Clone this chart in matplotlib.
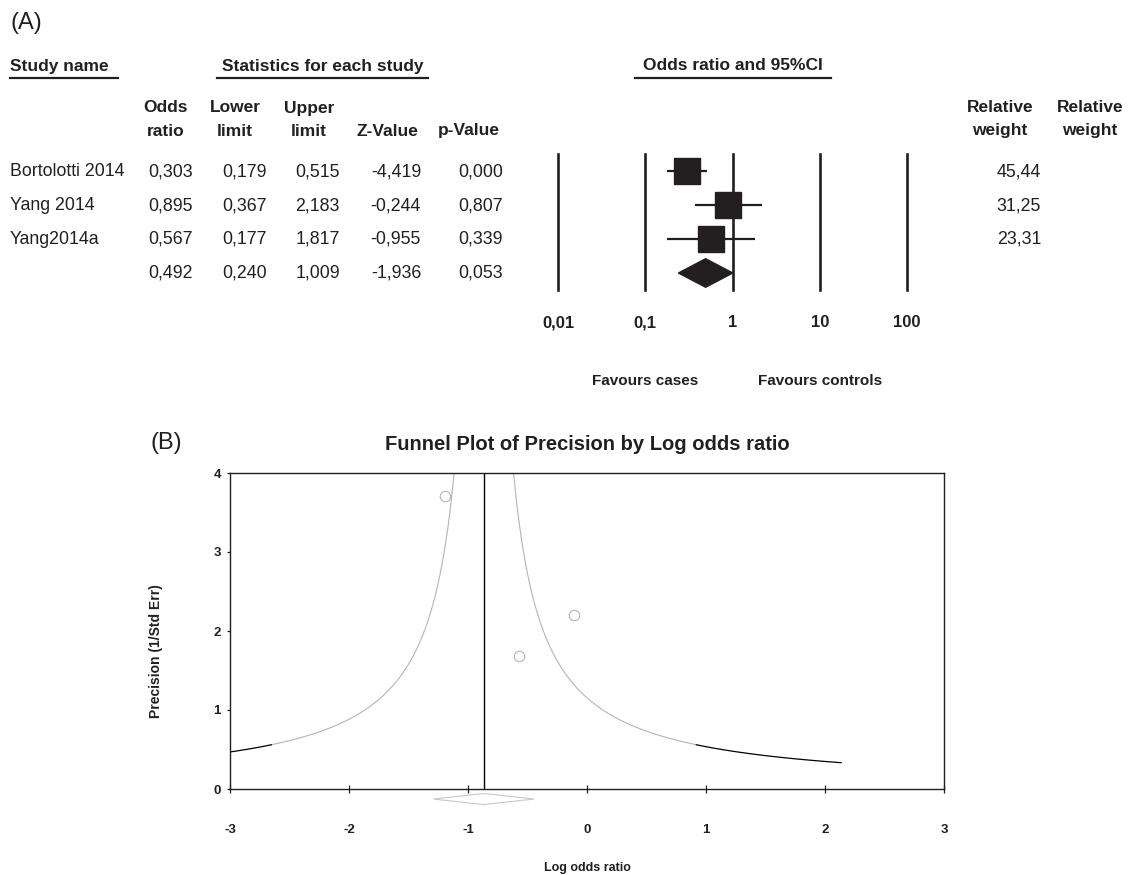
"""
Forest plot (A) and funnel plot (B) of the meta-analysis
"""

import matplotlib

matplotlib.use("Agg")
import matplotlib.pyplot as plt
import numpy as np
from matplotlib.lines import Line2D
from matplotlib.patches import Polygon

plt.rcParams["font.family"] = ["Liberation Sans", "DejaVu Sans"]

W, H = 1129, 875
INK = "#231f20"

# study data
studies = ["Bortolotti 2014", "Yang 2014", "Yang2014a"]
odds_ratio = [0.303, 0.895, 0.567]
lower = [0.179, 0.367, 0.177]
upper = [0.515, 2.183, 1.817]
z_value = [-4.419, -0.244, -0.955]
p_value = [0.000, 0.807, 0.339]
rel_weight = [45.44, 31.25, 23.31]

# pooled (summary) row
pooled_or, pooled_lo, pooled_hi = 0.492, 0.240, 1.009
pooled_z, pooled_p = -1.936, 0.053

forest_ticks = [0.01, 0.1, 1, 10, 100]
forest_ticklabels = ["0,01", "0,1", "1", "10", "100"]


def fmt(v, nd=3):
    return f"{v:.{nd}f}".replace(".", ",")


def fx(x):
    return x / W


def fy(y):
    return 1 - y / H


fig = plt.figure(figsize=(W / 100, H / 100), dpi=100)

# ---------------- panel A: table ----------------
fig.text(fx(10), fy(23), "(A)", fontsize=17, color=INK, va="center", ha="left")

hdr = dict(fontsize=12.5, fontweight="bold", color=INK, va="center")
fig.text(fx(10), fy(66), "Study name", ha="left", **hdr)
fig.text(fx(222), fy(66), "Statistics for each study", ha="left", **hdr)
fig.text(fx(733), fy(66), "Odds ratio and 95%CI", ha="center", **hdr)
for x0, x1 in [(10, 118), (217, 428), (635, 831)]:
    fig.add_artist(Line2D([fx(x0), fx(x1)], [fy(78), fy(78)], color=INK, lw=1.6))

col_hdr = [
    (166, "Odds", "ratio"),
    (235, "Lower", "limit"),
    (309, "Upper", "limit"),
    (387, "", "Z-Value"),
    (469, "", "p-Value"),
    (1000, "Relative", "weight"),
    (1090, "Relative", "weight"),
]
for x, l1, l2 in col_hdr:
    if l1:
        fig.text(fx(x), fy(108), l1, ha="center", **hdr)
    fig.text(fx(x), fy(131), l2, ha="center", **hdr)

row_y = [172, 206, 239, 273]
val = dict(fontsize=12.8, color=INK, va="center", ha="right")
col_right = [193, 267, 340, 421, 503]
for i, name in enumerate(studies):
    fig.text(fx(10), fy(row_y[i]), name, fontsize=12.8, color=INK, va="center", ha="left")
    vals = [odds_ratio[i], lower[i], upper[i], z_value[i], p_value[i]]
    for xr, v in zip(col_right, vals):
        fig.text(fx(xr), fy(row_y[i]), fmt(v), **val)
    fig.text(fx(1041), fy(row_y[i]), fmt(rel_weight[i], 2), **val)
for xr, v in zip(col_right, [pooled_or, pooled_lo, pooled_hi, pooled_z, pooled_p]):
    fig.text(fx(xr), fy(row_y[3]), fmt(v), **val)

# ---------------- panel A: forest ----------------
axf = fig.add_axes([fx(558), fy(290), fx(907) - fx(558), fy(154) - fy(290)])
axf.set_xscale("log")
axf.set_xlim(0.01, 100)
axf.set_ylim(3.5, -0.5)
axf.axis("off")
for t in forest_ticks:
    axf.axvline(t, color=INK, lw=1.9, clip_on=False)

rows = np.arange(len(studies))
axf.hlines(rows, lower, upper, color=INK, lw=1.6)
axf.plot(odds_ratio, rows, "s", ms=18.5, color=INK, mec=INK)
h = 0.42
diamond = Polygon(
    [(pooled_lo, 3), (pooled_or, 3 - h), (pooled_hi, 3), (pooled_or, 3 + h)],
    closed=True, color=INK,
)
axf.add_patch(diamond)

for t, lab in zip(forest_ticks, forest_ticklabels):
    axf.text(t, 4.47, lab, ha="center", va="center", fontsize=12, fontweight="bold",
             color=INK, clip_on=False)
axf.text(0.1, 6.18, "Favours cases", ha="center", va="center", fontsize=11,
         fontweight="bold", color=INK, clip_on=False)
axf.text(10, 6.18, "Favours controls", ha="center", va="center", fontsize=11,
         fontweight="bold", color=INK, clip_on=False)

# ---------------- panel B: funnel ----------------
log_or = np.log(odds_ratio)
se = (np.log(upper) - np.log(lower)) / 3.92
precision = 1 / se
w = 1 / se**2
center = np.sum(w * log_or) / np.sum(w)
center_se = 1 / np.sqrt(np.sum(w))

fig.text(fx(150), fy(443), "(B)", fontsize=17, color=INK, va="center", ha="left")

ax = fig.add_axes([fx(230), fy(789), fx(944) - fx(230), fy(473) - fy(789)])
ax.set_xlim(-3, 3)
ax.set_ylim(0, 4)

# funnel limits; the low-precision tails are drawn dark like in the original
prec_dark = np.linspace(0.333, 0.56, 60)
prec_light = np.linspace(0.56, 4.5, 400)
for sign in (-1, 1):
    ax.plot(center + sign / prec_light, prec_light, color="#b5b5b5", lw=0.8)
    ax.plot(center + sign / prec_dark, prec_dark, color="black", lw=0.9)
ax.axvline(center, color="black", lw=1.0)
ax.plot(log_or, precision, "o", ms=7.5, mfc="white", mec="#b5b5b5", mew=0.8)

dh = 0.07
ax.add_patch(Polygon(
    [(center - 1.96 * center_se, -0.127), (center, -0.127 + dh),
     (center + 1.96 * center_se, -0.127), (center, -0.127 - dh)],
    closed=True, fill=False, ec="#c8c8c8", lw=0.8, clip_on=False,
))

ax.set_xticks(range(-3, 4))
ax.set_xticklabels([str(v) for v in range(-3, 4)])
ax.set_yticks(range(0, 5))
ax.tick_params(axis="x", direction="inout", length=6, width=0.9, pad=22,
               labelsize=9.5, colors=INK)
ax.tick_params(axis="y", direction="out", length=2.5, width=0.9, pad=4,
               labelsize=9.5, colors=INK)
for lab in ax.get_xticklabels() + ax.get_yticklabels():
    lab.set_fontweight("bold")
for s in ax.spines.values():
    s.set_linewidth(1.0)
    s.set_color(INK)

ax.set_xlabel("Log odds ratio", fontsize=9, fontweight="bold", color=INK)
ax.xaxis.set_label_coords(0.5, (789 - 862) / 316)
ax.set_ylabel("Precision (1/Std Err)", fontsize=10, fontweight="bold", color=INK)
ax.yaxis.set_label_coords((163 - 230) / 714, (789 - 651) / 316)
ax.text(0.5, (789 - 445) / 316, "Funnel Plot of Precision by Log odds ratio",
        transform=ax.transAxes, ha="center", va="center", fontsize=14.5,
        fontweight="bold", color=INK)

fig.savefig("out.png", dpi=100)
